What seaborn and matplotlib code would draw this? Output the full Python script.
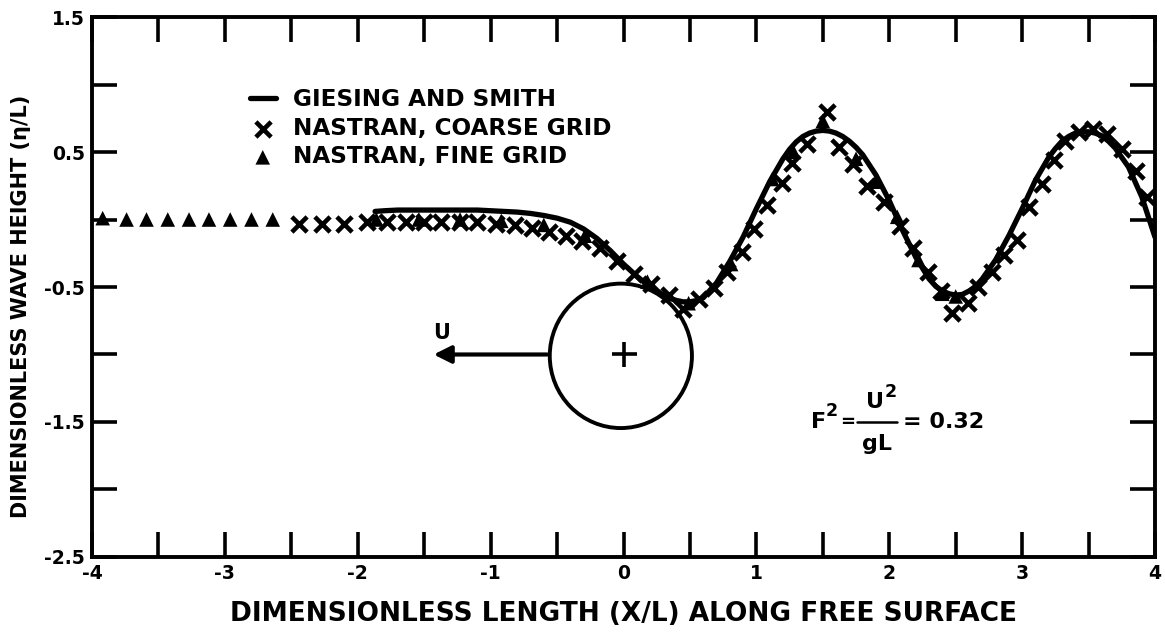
import matplotlib
matplotlib.use("Agg")
import matplotlib.pyplot as plt
from matplotlib.patches import Circle
import seaborn as sns

# Giesing and Smith solution
gs_x = [-1.87, -1.8, -1.7, -1.6, -1.5, -1.4, -1.3, -1.2, -1.1, -1.0, -0.9, -0.8,
        -0.7, -0.6, -0.5, -0.4, -0.3, -0.2, -0.1, 0.0, 0.1, 0.2, 0.3, 0.35, 0.4,
        0.45, 0.5, 0.55, 0.6, 0.7, 0.8, 0.9, 1.0, 1.1, 1.2, 1.25, 1.3, 1.35, 1.4,
        1.45, 1.5, 1.55, 1.6, 1.65, 1.7, 1.75, 1.8, 1.9, 2.0, 2.1, 2.2, 2.3, 2.35,
        2.4, 2.45, 2.5, 2.55, 2.6, 2.65, 2.7, 2.8, 2.9, 3.0, 3.1, 3.2, 3.25, 3.3,
        3.35, 3.4, 3.45, 3.5, 3.55, 3.6, 3.65, 3.7, 3.8, 3.9, 4.0]
gs_y = [0.06, 0.065, 0.07, 0.07, 0.07, 0.07, 0.07, 0.07, 0.07, 0.065, 0.06, 0.055,
        0.045, 0.03, 0.01, -0.02, -0.07, -0.14, -0.23, -0.33, -0.42, -0.50, -0.56,
        -0.585, -0.60, -0.61, -0.61, -0.60, -0.58, -0.47, -0.31, -0.13, 0.08, 0.28,
        0.45, 0.52, 0.575, 0.615, 0.64, 0.655, 0.66, 0.655, 0.64, 0.615, 0.58, 0.535,
        0.48, 0.33, 0.14, -0.08, -0.28, -0.44, -0.495, -0.53, -0.55, -0.56, -0.555,
        -0.53, -0.495, -0.44, -0.30, -0.12, 0.08, 0.29, 0.46, 0.525, 0.58, 0.615,
        0.64, 0.65, 0.65, 0.64, 0.62, 0.58, 0.53, 0.39, 0.17, -0.13]

# NASTRAN, coarse grid
coarse_x = [-2.44, -2.27, -2.10, -1.93, -1.78, -1.64, -1.50, -1.37, -1.23, -1.10,
            -0.96, -0.82, -0.69, -0.56, -0.43, -0.31, -0.18, -0.05, 0.08, 0.21,
            0.34, 0.45, 0.57, 0.68, 0.78, 0.89, 0.98, 1.08, 1.19, 1.27, 1.38, 1.53,
            1.62, 1.73, 1.83, 1.96, 2.08, 2.18, 2.29, 2.39, 2.47, 2.59, 2.67, 2.77,
            2.86, 2.96, 3.05, 3.15, 3.24, 3.32, 3.43, 3.53, 3.64, 3.75, 3.86, 3.94]
coarse_y = [-0.03, -0.03, -0.03, -0.02, -0.02, -0.02, -0.02, -0.02, -0.02, -0.02,
            -0.03, -0.04, -0.06, -0.09, -0.12, -0.16, -0.21, -0.31, -0.40, -0.48,
            -0.56, -0.66, -0.59, -0.51, -0.39, -0.24, -0.07, 0.11, 0.27, 0.42, 0.56,
            0.80, 0.54, 0.41, 0.25, 0.13, -0.05, -0.21, -0.39, -0.53, -0.69, -0.62,
            -0.50, -0.39, -0.26, -0.15, 0.09, 0.26, 0.44, 0.58, 0.65, 0.67, 0.63,
            0.52, 0.36, 0.17]

# NASTRAN, fine grid
fine_x = [-3.92, -3.74, -3.59, -3.43, -3.27, -3.12, -2.96, -2.80, -2.64,
          -1.86, -1.54, -1.23, -0.92, -0.60, -0.29, 0.18, 0.49, 0.81, 1.12,
          1.28, 1.50, 1.75, 1.90, 2.06, 2.22, 2.40, 2.50]
fine_y = [0.01, 0.0, 0.0, 0.0, 0.0, 0.0, 0.0, 0.0, 0.0,
          0.0, 0.0, 0.0, -0.01, -0.04, -0.12, -0.46, -0.62, -0.33, 0.30,
          0.50, 0.73, 0.45, 0.28, 0.02, -0.30, -0.55, -0.57]

x_major = [-4, -3, -2, -1, 0, 1, 2, 3, 4]
x_minor = [-3.5, -2.5, -1.5, -0.5, 0.5, 1.5, 2.5, 3.5]
y_major = [-2.5, -1.5, -0.5, 0.5, 1.5]
y_minor = [-2.0, -1.0, 0.0, 1.0]

sns.set_theme(style="ticks")
plt.rcParams["font.family"] = ["DejaVu Sans"]
plt.rcParams["font.weight"] = "bold"
plt.rcParams["axes.unicode_minus"] = False
plt.rcParams["text.color"] = "black"
plt.rcParams["axes.labelcolor"] = "black"
plt.rcParams["xtick.color"] = "black"
plt.rcParams["ytick.color"] = "black"

fig = plt.figure(figsize=(11.65, 6.33), dpi=100)
ax = fig.add_axes([0.079, 0.1201, 0.9124, 0.853])

sns.lineplot(x=gs_x, y=gs_y, color="black", lw=3.8, sort=False, ax=ax,
             label="GIESING AND SMITH", solid_joinstyle="round")
sns.scatterplot(x=coarse_x, y=coarse_y, marker="x", s=120, linewidth=3.3,
                color="black", ax=ax, label="NASTRAN, COARSE GRID", zorder=3)
sns.scatterplot(x=fine_x, y=fine_y, marker="^", s=110, color="black",
                edgecolor="none", ax=ax, label="NASTRAN, FINE GRID", zorder=3)

# submerged cylinder, its velocity and centre
ax.add_patch(Circle((-0.02, -1.01), 0.535, fill=False, lw=2.8, ec="black"))
ax.plot([0], [-1], marker="+", ms=18, mew=2.6, color="black")
ax.annotate("", xy=(-1.45, -1), xytext=(-0.555, -1),
            arrowprops=dict(arrowstyle="-|>", lw=3, color="black",
                            mutation_scale=26))
ax.text(-1.37, -0.84, "U", fontsize=15, fontweight="bold", ha="center", va="center")

# Froude number note
fs = 16
ax.text(1.47, -1.50, "F", fontsize=fs, fontweight="bold", ha="center", va="center")
ax.text(1.565, -1.42, "2", fontsize=12.5, fontweight="bold", ha="center", va="center")
ax.text(1.685, -1.50, "=", fontsize=13, fontweight="bold", ha="center", va="center")
ax.plot([1.76, 2.06], [-1.50, -1.50], color="black", lw=1.8)
ax.text(1.89, -1.35, "U", fontsize=fs, fontweight="bold", ha="center", va="center")
ax.text(2.01, -1.28, "2", fontsize=12.5, fontweight="bold", ha="center", va="center")
ax.text(1.91, -1.66, "gL", fontsize=fs, fontweight="bold", ha="center", va="center")
ax.text(2.10, -1.50, "= 0.32", fontsize=fs, fontweight="bold", ha="left", va="center")

ax.set_xlim(-4, 4)
ax.set_ylim(-2.5, 1.5)
ax.set_xticks(x_major)
ax.set_xticks(x_minor, minor=True)
ax.set_yticks(y_major)
ax.set_yticks(y_minor, minor=True)
ax.set_xticklabels([str(v) for v in x_major])
ax.set_yticklabels([str(v) for v in y_major])
ax.tick_params(which="both", direction="in", length=18, width=2.6, color="black",
               top=True, right=True, labelsize=13.5, pad=5)
for lab in ax.get_xticklabels() + ax.get_yticklabels():
    lab.set_fontweight("bold")
for sp in ax.spines.values():
    sp.set_linewidth(2.8)
    sp.set_color("black")
    sp.set_visible(True)

ax.set_xlabel("DIMENSIONLESS LENGTH (X/L) ALONG FREE SURFACE", fontsize=19,
              fontweight="bold", labelpad=13)
ax.set_ylabel("DIMENSIONLESS WAVE HEIGHT (η/L)", fontsize=15,
              fontweight="bold")
ax.yaxis.set_label_coords(-0.057, 0.465)

ax.legend(loc="upper left", bbox_to_anchor=(0.1486, 0.868), frameon=False,
          handlelength=1.1, handletextpad=0.75, labelspacing=0.24,
          borderpad=0, borderaxespad=0, prop={"weight": "bold", "size": 16.7})

fig.savefig("out.png", dpi=100)
